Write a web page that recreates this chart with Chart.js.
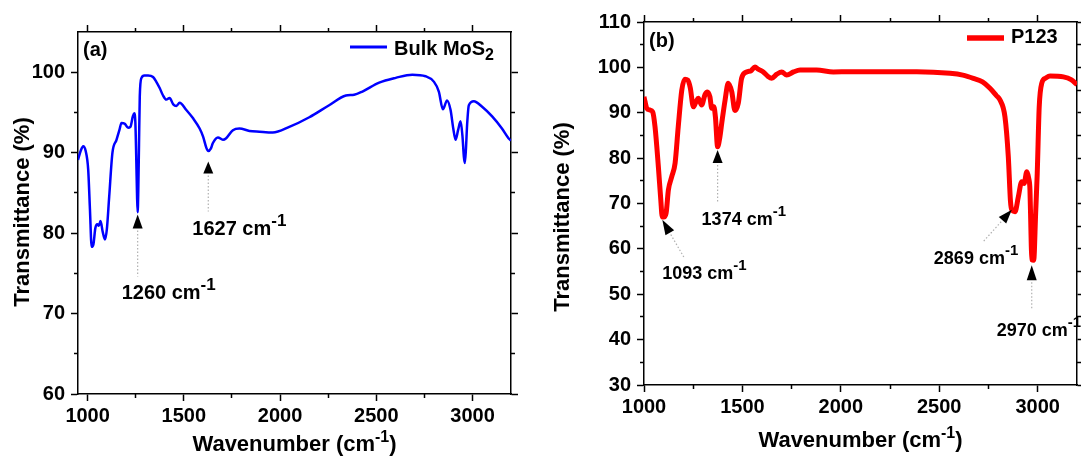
<!DOCTYPE html>
<html>
<head>
<meta charset="utf-8">
<title>FTIR spectra</title>
<script src="https://cdn.jsdelivr.net/npm/chart.js@4.4.1/dist/chart.umd.min.js"></script>
<style>
  html, body { margin: 0; padding: 0; background: #fff; }
  #wrap { position: relative; width: 1081px; height: 459px; overflow: hidden; }
  #wrap canvas { position: absolute; top: 0; }
  #chartA { left: 0; }
  #chartB { left: 540px; }
</style>
</head>
<body>
<div id="wrap">
  <canvas id="chartA" width="540" height="459"></canvas>
  <canvas id="chartB" width="541" height="459"></canvas>
</div>
<script>
// (a) bulk MoS2
const bulkWavenumber = [
  950, 965, 977, 990, 1003, 1012, 1021, 1030, 1040, 1050, 1058, 1067, 1078, 1090, 1100,
  1112, 1129, 1150, 1165, 1176, 1193, 1210, 1222, 1235, 1242, 1248, 1253, 1257, 1260, 1263,
  1267, 1271, 1280, 1295, 1314, 1340, 1357, 1375, 1390, 1409, 1426, 1445, 1461, 1478, 1513,
  1547, 1582, 1600, 1617, 1627, 1640, 1651, 1677, 1703, 1720, 1755, 1789, 1841, 1893, 1962,
  2048, 2152, 2255, 2342, 2385, 2428, 2515, 2601, 2687, 2756, 2800, 2825, 2846, 2868, 2886,
  2900, 2912, 2925, 2938, 2948, 2955, 2960, 2966, 2972, 2981, 3007, 3050, 3102, 3153, 3187, 3200
];
const bulkTransmittance = [
  89.1, 90.3, 90.8, 90.2, 87.9, 83.0, 78.3, 78.6, 80.6, 81.1, 80.9, 81.5, 80.2, 79.2, 80.5,
  84.5, 90.0, 91.6, 92.8, 93.7, 93.6, 93.1, 93.2, 94.5, 94.9, 93.8, 89.0, 84.5, 82.6, 85.0,
  91.0, 97.0, 99.3, 99.6, 99.6, 99.4, 98.8, 98.0, 97.2, 96.6, 96.8, 96.0, 95.8, 96.2, 95.3,
  94.3, 93.0, 92.0, 90.6, 90.2, 90.5, 91.2, 91.9, 91.6, 91.8, 92.8, 93.0, 92.7, 92.6, 92.5,
  93.2, 94.4, 95.9, 97.1, 97.2, 97.6, 98.7, 99.3, 99.7, 99.5, 98.8, 97.6, 95.4, 96.5, 95.3,
  93.0, 91.6, 92.8, 93.9, 92.0, 89.5, 88.7, 90.5, 93.5, 95.9, 96.4, 95.7, 94.5, 93.0, 91.8, 91.5
];

// (b) P123
const p123Wavenumber = [
  1000, 1005, 1014, 1030, 1044, 1056, 1073, 1085, 1093, 1100, 1112, 1124, 1141, 1158, 1174,
  1192, 1208, 1222, 1235, 1251, 1265, 1276, 1293, 1310, 1322, 1335, 1344, 1355, 1363, 1374,
  1385, 1395, 1412, 1428, 1446, 1462, 1479, 1496, 1522, 1545, 1564, 1580, 1606, 1630, 1649,
  1675, 1700, 1725, 1760, 1793, 1877, 1962, 2047, 2386, 2555, 2620, 2673, 2720, 2758, 2790,
  2809, 2834, 2851, 2862, 2869, 2885, 2902, 2919, 2931, 2945, 2955, 2961, 2966, 2970, 2980,
  2990, 2998, 3008, 3021, 3040, 3063, 3131, 3170, 3200
];
const p123Transmittance = [
  93.5, 92.5, 91.0, 90.6, 90.2, 86.9, 78.1, 71.0, 67.0, 67.0, 67.8, 73.0, 75.9, 78.9, 86.9,
  95.0, 97.4, 97.2, 95.5, 91.3, 92.5, 93.2, 91.7, 94.0, 94.6, 93.5, 91.0, 91.3, 89.0, 82.5,
  84.5, 87.7, 92.8, 96.5, 94.6, 90.5, 92.1, 97.6, 99.0, 99.3, 100.1, 99.6, 99.0, 98.0, 97.6,
  98.5, 99.0, 98.3, 99.0, 99.4, 99.4, 99.0, 99.05, 99.05, 98.7, 98.3, 97.6, 96.8, 95.4, 93.8,
  92.8, 89.1, 80.3, 70.5, 68.6, 68.2, 71.5, 74.8, 74.4, 77.0, 75.5, 73.0, 64.0, 57.6, 57.5,
  68.0, 76.7, 91.3, 96.5, 97.6, 98.1, 97.9, 97.3, 96.2
];

// axis ticks
const xMajorTicks = [1000, 1500, 2000, 2500, 3000];
const xMinorTicks = [1250, 1750, 2250, 2750];
const bulkYMajor = [60, 70, 80, 90, 100];
const bulkYMinor = [65, 75, 85, 95];
const p123YMajor = [30, 40, 50, 60, 70, 80, 90, 100, 110];
const p123YMinor = [35, 45, 55, 65, 75, 85, 95, 105];

// marked bands: wavenumber and the transmittance where the arrow tip sits
const bulkPeaks = [1260, 1627];
const bulkPeakTips = [82.3, 88.9];
const p123Peaks = [1093, 1374, 2869, 2970];
const p123PeakTips = [66.4, 81.8, 68.6, 56.4];

const FONT = '"Liberation Sans", Arial, Helvetica, sans-serif';
const tickFont = { family: FONT, size: 20, weight: 'bold' };

function ticksAt(values) {
  return s => { s.ticks = values.map(v => ({ value: v })); };
}

// major + minor scale pair for one side of the frame
function side(axis, pos, range, major, minor, size, labels) {
  const horiz = axis === 'x';
  const common = { type: 'linear', position: pos, min: range[0], max: range[1], axis: axis };
  return [
    Object.assign({}, common, {
      weight: 1,
      afterBuildTicks: ticksAt(major),
      afterFit: s => { if (horiz) s.height = size; else s.width = size; },
      grid: { display: true, drawOnChartArea: false, drawTicks: true, tickLength: 7, tickWidth: 1.5, tickColor: '#000' },
      border: { display: true, color: '#000', width: 1.5 },
      ticks: {
        display: labels, autoSkip: false, maxRotation: 0, color: '#000', font: tickFont,
        padding: horiz ? 3 : 6, callback: v => String(v)
      }
    }),
    Object.assign({}, common, {
      weight: 0,
      afterBuildTicks: ticksAt(minor),
      afterFit: s => { if (horiz) s.height = 0; else s.width = 0; },
      grid: { display: true, drawOnChartArea: false, drawTicks: true, tickLength: 4, tickWidth: 1.5, tickColor: '#000' },
      border: { display: false },
      ticks: { display: false }
    })
  ];
}

function frameScales(xr, yr, yMajor, yMinor, m) {
  const [x, xm] = side('x', 'bottom', xr, xMajorTicks, xMinorTicks, m.bottom, true);
  const [x2, x2m] = side('x', 'top', xr, xMajorTicks, xMinorTicks, m.top, false);
  const [y, ym] = side('y', 'left', yr, yMajor, yMinor, m.left, true);
  const [y2, y2m] = side('y', 'right', yr, yMajor, yMinor, m.right, false);
  return { x, xm, x2, x2m, y, ym, y2, y2m };
}

// text made of runs: [text, size, baseline shift]
function textRun(ctx, runs, x, y, align) {
  let w = 0;
  runs.forEach(r => { ctx.font = 'bold ' + r[1] + 'px ' + FONT; w += ctx.measureText(r[0]).width; });
  let cx = align === 'center' ? x - w / 2 : x;
  runs.forEach(r => {
    ctx.font = 'bold ' + r[1] + 'px ' + FONT;
    ctx.fillText(r[0], cx, y + (r[2] || 0));
    cx += ctx.measureText(r[0]).width;
  });
}

function drawArrow(ctx, x, y, deg, h, stem) {
  const a = deg * Math.PI / 180, dx = Math.cos(a), dy = Math.sin(a), hw = 5;
  ctx.fillStyle = '#000';
  ctx.beginPath();
  ctx.moveTo(x, y);
  ctx.lineTo(x + dx * h - dy * hw, y + dy * h + dx * hw);
  ctx.lineTo(x + dx * h + dy * hw, y + dy * h - dx * hw);
  ctx.closePath();
  ctx.fill();
  ctx.strokeStyle = '#b0b0b0';
  ctx.lineWidth = 1.2;
  ctx.setLineDash([1.5, 2]);
  ctx.beginPath();
  ctx.moveTo(x + dx * (h + 2), y + dy * (h + 2));
  ctx.lineTo(x + dx * (h + 2 + stem), y + dy * (h + 2 + stem));
  ctx.stroke();
  ctx.setLineDash([]);
}

// panel tag, legend, axis titles and band arrows
function decorations(cfg) {
  return {
    id: 'decorations',
    afterDraw(chart) {
      const { ctx, chartArea: area, scales } = chart;
      const ds = chart.data.datasets[0];
      ctx.save();
      ctx.fillStyle = '#000';
      ctx.textAlign = 'left';
      ctx.textBaseline = 'alphabetic';

      textRun(ctx, [[cfg.tag, 20]], area.left + 5, area.top + cfg.tagY, 'left');

      const lg = cfg.legend;
      ctx.strokeStyle = ds.borderColor;
      ctx.lineWidth = ds.borderWidth + 0.5;
      ctx.beginPath();
      ctx.moveTo(lg.x, area.top + lg.lineY);
      ctx.lineTo(lg.x + 37, area.top + lg.lineY);
      ctx.stroke();
      ctx.fillStyle = '#000';
      textRun(ctx, lg.runs, lg.x + 44, area.top + lg.textY, 'left');

      ctx.save();
      ctx.translate(cfg.yTitle[0], cfg.yTitle[1]);
      ctx.rotate(-Math.PI / 2);
      ctx.textAlign = 'center';
      ctx.textBaseline = 'middle';
      ctx.font = 'bold 22px ' + FONT;
      ctx.fillText('Transmittance (%)', 0, 0);
      ctx.restore();

      textRun(ctx, [['Wavenumber (cm', 22], ['-1', 16, -9], [')', 22]],
        (area.left + area.right) / 2, cfg.xTitleY, 'center');

      const fs = cfg.markFont;
      cfg.peaks.forEach((wn, i) => {
        const p = cfg.marks[i];
        const px = scales.x.getPixelForValue(wn);
        const py = scales.y.getPixelForValue(cfg.tips[i]);
        drawArrow(ctx, px, py, p.deg, p.h, p.stem);
        ctx.fillStyle = '#000';
        textRun(ctx, [[wn + ' cm', fs], ['-1', fs - 3, -9]], px + p.dx, py + p.dy, 'left');
      });
      ctx.restore();
    }
  };
}

function spectrum(canvasId, wn, tr, color, width, scales, plugin) {
  return new Chart(document.getElementById(canvasId), {
    type: 'line',
    data: {
      datasets: [{
        data: wn.map((w, i) => ({ x: w, y: tr[i] })),
        borderColor: color,
        borderWidth: width,
        pointRadius: 0,
        cubicInterpolationMode: 'monotone',
        xAxisID: 'x',
        yAxisID: 'y'
      }]
    },
    options: {
      responsive: false,
      animation: false,
      events: [],
      layout: { padding: 0 },
      plugins: { legend: { display: false }, tooltip: { enabled: false } },
      scales: scales
    },
    plugins: [plugin]
  });
}

spectrum('chartA', bulkWavenumber, bulkTransmittance, '#0000ff', 2.5,
  frameScales([950, 3200], [60, 105], bulkYMajor, bulkYMinor, { left: 78, top: 32, right: 29, bottom: 65 }),
  decorations({
    tag: '(a)', tagY: 24,
    legend: { x: 350, lineY: 15, textY: 23, runs: [['Bulk MoS', 20], ['2', 16, 5]] },
    yTitle: [22.5, 212],
    xTitleY: 451,
    markFont: 20,
    peaks: bulkPeaks, tips: bulkPeakTips,
    marks: [
      { deg: 90, h: 14, stem: 46, dx: -16, dy: 84 },
      { deg: 90, h: 12, stem: 36, dx: -16, dy: 73 }
    ]
  }));

spectrum('chartB', p123Wavenumber, p123Transmittance, '#ff0000', 5,
  frameScales([1000, 3200], [30, 110], p123YMajor, p123YMinor, { left: 104, top: 22, right: 4, bottom: 74 }),
  decorations({
    tag: '(b)', tagY: 25,
    legend: { x: 427, lineY: 16, textY: 21, runs: [['P123', 20]] },
    yTitle: [23, 217],
    xTitleY: 447,
    markFont: 18,
    peaks: p123Peaks, tips: p123PeakTips,
    marks: [
      { deg: 60, h: 15, stem: 26, dx: 0, dy: 59 },
      { deg: 90, h: 13, stem: 38, dx: -16, dy: 75 },
      { deg: 132, h: 14, stem: 26, dx: -78, dy: 54 },
      { deg: 90, h: 15, stem: 28, dx: -35, dy: 71 }
    ]
  }));
</script>
</body>
</html>
